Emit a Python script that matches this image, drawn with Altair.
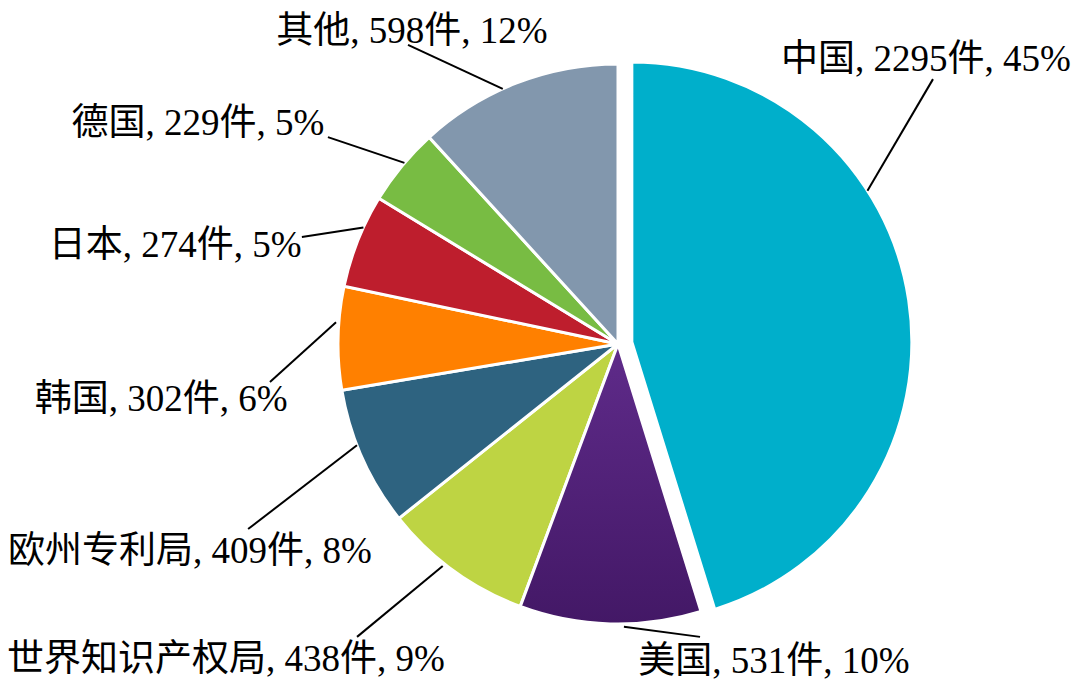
import math
import altair as alt
import pandas as pd

# ---- data ----
categories = ["中国", "美国", "世界知识产权局", "欧州专利局", "韩国", "日本", "德国", "其他"]
counts = [2295, 531, 438, 409, 302, 274, 229, 598]

# ---- styling / layout (separate from the data) ----
colors = ["#00AFCB", "#52247A", "#BED443", "#2E6380", "#FF8000", "#BE1E2D", "#78BC43", "#8297AD"]
explode = [0.05, 0, 0, 0, 0, 0, 0, 0]                     # slice offset, in pie radii
leader_angle = [57.3, 178.8, 218.3, 248.8, 274.4, 294.6, 310.3, 335.7]   # deg, clockwise from 12 o'clock
leader_r = [1.0, 1.01, 1.01, 1.0, 1.01, 1.0, 1.0, 1.0]
leader_end_x = [1.125, 0.293, -0.932, -1.321, -1.243, -1.129, -1.036, -0.75]
leader_end_y = [0.946, -1.046, -1.046, -0.661, -0.136, 0.382, 0.739, 1.068]
label_x = [1.100, 0.557, -1.40, -1.529, -1.632, -1.582, -1.50, -0.736]
label_y = [1.015, -1.136, -1.129, -0.743, -0.20, 0.35, 0.786, 1.115]

R = 280          # pie radius in px
W, H = 1064, 674
CX, CY = 610, 336  # pie centre inside the plot area (px)

total = sum(counts)
rows = []
cum = 0
for i, (c, n) in enumerate(zip(categories, counts)):
    t0, t1 = cum, cum + n
    cum = t1
    mid = math.radians((t0 + t1) / 2 / total * 360)
    cx = explode[i] * math.sin(mid)
    cy = explode[i] * math.cos(mid)
    la = math.radians(leader_angle[i])
    rows.append(dict(
        cat=c, n=n, t0=t0, t1=t1, order=i,
        cx=cx, cy=cy,
        sx=cx + leader_r[i] * math.sin(la), sy=cy + leader_r[i] * math.cos(la),
        ex=leader_end_x[i], ey=leader_end_y[i],
        tx=label_x[i], ty=label_y[i],
    ))
df = pd.DataFrame(rows)

xscale = alt.Scale(domain=[-CX / R, (W - CX) / R], nice=False, zero=False)
yscale = alt.Scale(domain=[-(H - CY) / R, CY / R], nice=False, zero=False)
theta_scale = alt.Scale(domain=[0, total], range=[0, 2 * math.pi])

base = alt.Chart(df)

arcs = base.mark_arc(radius=R, stroke="white", strokeWidth=3).encode(
    theta=alt.Theta("t0:Q", scale=theta_scale, stack=None),
    theta2="t1:Q",
    x=alt.X("cx:Q", scale=xscale, axis=None),
    y=alt.Y("cy:Q", scale=yscale, axis=None),
    color=alt.Color("cat:N", scale=alt.Scale(domain=categories, range=colors), legend=None),
    order=alt.Order("order:Q"),
)

# the purple slice in the reference carries a soft vertical gradient
purple_grad = base.transform_filter(alt.datum.cat == "美国").mark_arc(
    radius=R, stroke="white", strokeWidth=3,
    fill=alt.Gradient(
        gradient="linear", x1=0, y1=0, x2=0, y2=1,
        stops=[alt.GradientStop(offset=0, color="#5F2B8A"),
               alt.GradientStop(offset=1, color="#431866")],
    ),
).encode(
    theta=alt.Theta("t0:Q", scale=theta_scale, stack=None),
    theta2="t1:Q",
    x=alt.X("cx:Q", scale=xscale, axis=None),
    y=alt.Y("cy:Q", scale=yscale, axis=None),
)

leaders = base.mark_rule(color="black", strokeWidth=2).encode(
    x=alt.X("sx:Q", scale=xscale, axis=None),
    y=alt.Y("sy:Q", scale=yscale, axis=None),
    x2="ex:Q",
    y2="ey:Q",
)

labels = base.transform_calculate(
    label="datum.cat + ', ' + datum.n + '件, ' + format(datum.n / " + str(total) + ", '.0%')"
).mark_text(
    font="Liberation Serif, 'Noto Sans CJK SC'",
    fontSize=37,
    align="center",
    baseline="middle",
    color="black",
).encode(
    x=alt.X("tx:Q", scale=xscale, axis=None),
    y=alt.Y("ty:Q", scale=yscale, axis=None),
    text="label:N",
)

chart = alt.layer(arcs, purple_grad, leaders, labels).properties(
    width=W, height=H,
    autosize=alt.AutoSizeParams(type="none"),
    padding=0,
    background="white",
).configure_view(stroke=None)

chart.save("out.html", embed_options={"renderer": "svg", "actions": False})
